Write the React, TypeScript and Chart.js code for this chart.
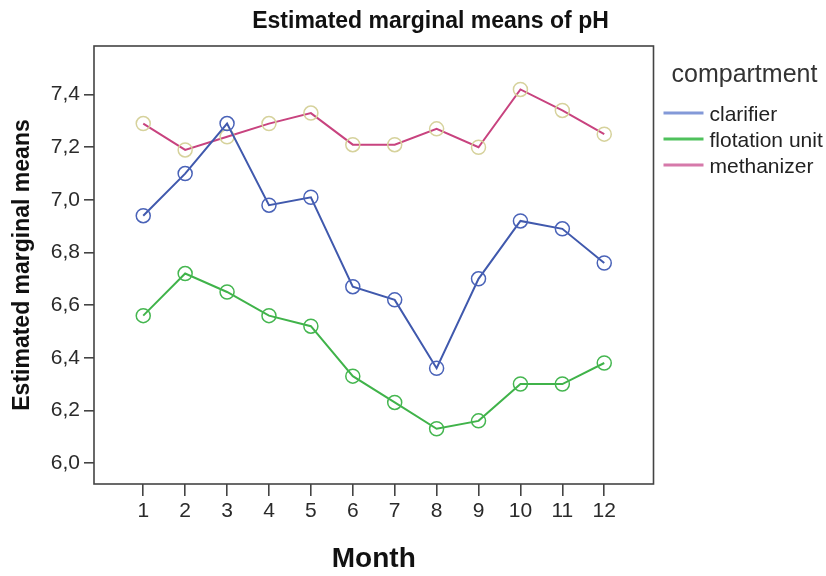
import React, { useEffect, useRef } from 'react';
import { Chart, registerables } from 'chart.js';

Chart.register(...registerables);

// ---- data ----
const months = [1, 2, 3, 4, 5, 6, 7, 8, 9, 10, 11, 12];
const clarifier = [6.94, 7.10, 7.29, 6.98, 7.01, 6.67, 6.62, 6.36, 6.70, 6.92, 6.89, 6.76];
const flotationUnit = [6.56, 6.72, 6.65, 6.56, 6.52, 6.33, 6.23, 6.13, 6.16, 6.30, 6.30, 6.38];
const methanizer = [7.29, 7.19, 7.24, 7.29, 7.33, 7.21, 7.21, 7.27, 7.20, 7.42, 7.34, 7.25];
const yTicks = [6.0, 6.2, 6.4, 6.6, 6.8, 7.0, 7.2, 7.4];
const seriesNames = ['clarifier', 'flotation unit', 'methanizer'];
const chartTitle = 'Estimated marginal means of pH';
const legendTitle = 'compartment';
const xTitle = 'Month';
const yTitle = 'Estimated marginal means';

const FONT = '"Liberation Sans", Arial, sans-serif';
const lineColors = ['#4059ad', '#40b34a', '#c8437f'];
const markerColors = ['#4a63b8', '#45b650', '#d6d29c'];
const legendColors = ['#8399d8', '#4fc15c', '#d679aa'];

const decorPlugin = {
  id: 'decor',
  afterDraw(chart: any) {
    const { ctx, chartArea: a } = chart;
    ctx.save();
    // frame
    ctx.strokeStyle = '#444';
    ctx.lineWidth = 1.6;
    ctx.strokeRect(a.left, a.top, a.right - a.left, a.bottom - a.top);
    // title
    ctx.fillStyle = '#111';
    ctx.font = `bold 23px ${FONT}`;
    ctx.textAlign = 'center';
    ctx.textBaseline = 'alphabetic';
    ctx.fillText(chartTitle, 430.5, 28);
    // legend
    ctx.textAlign = 'left';
    ctx.fillStyle = '#333';
    ctx.font = `25px ${FONT}`;
    ctx.fillText(legendTitle, a.right + 18, a.top + 36);
    ctx.font = `21px ${FONT}`;
    seriesNames.forEach((name, i) => {
      const y = a.top + 67 + i * 26;
      ctx.strokeStyle = legendColors[i];
      ctx.lineWidth = 3;
      ctx.beginPath();
      ctx.moveTo(a.right + 10, y);
      ctx.lineTo(a.right + 50, y);
      ctx.stroke();
      ctx.fillStyle = '#222';
      ctx.fillText(name, a.right + 56, y + 8);
    });
    ctx.restore();
  },
};

export default function App() {
  const ref = useRef<HTMLCanvasElement>(null);
  useEffect(() => {
    if (!ref.current) return;
    const series = [clarifier, flotationUnit, methanizer];
    const chart = new Chart(ref.current, {
      type: 'line',
      data: {
        datasets: series.map((vals, i) => ({
          label: seriesNames[i],
          data: months.map((m, j) => ({ x: m, y: vals[j] })),
          borderColor: lineColors[i],
          borderWidth: 2,
          tension: 0,
          pointRadius: 7,
          pointHoverRadius: 7,
          pointBorderWidth: 1.5,
          pointBorderColor: markerColors[i],
          pointBackgroundColor: 'rgba(0,0,0,0)',
          fill: false,
        })),
      },
      options: {
        animation: false,
        responsive: false,
        events: [],
        layout: { padding: { left: 0, top: 46, right: 172.5, bottom: 0 } },
        plugins: {
          legend: { display: false },
          title: { display: false },
          tooltip: { enabled: false },
        },
        scales: {
          x: {
            type: 'linear',
            min: -0.175,
            max: 13.175,
            afterBuildTicks: (s: any) => {
              s.ticks = months.map((v) => ({ value: v }));
            },
            afterFit: (s: any) => {
              s.height = 92;
            },
            grid: { display: true, drawOnChartArea: false, drawTicks: true, tickLength: 12, color: '#444', lineWidth: 1.6 },
            border: { display: false },
            ticks: {
              font: { family: FONT, size: 21 },
              color: '#2a2a2a',
              padding: 3,
              maxRotation: 0,
              autoSkip: false,
              callback: (v: any) => String(v),
            },
            title: {
              display: true,
              text: xTitle,
              font: { family: FONT, size: 28, weight: 'bold' },
              color: '#111',
              padding: { top: 0, bottom: 0 },
            },
          },
          y: {
            type: 'linear',
            min: 5.92,
            max: 7.585,
            afterBuildTicks: (s: any) => {
              s.ticks = yTicks.map((v) => ({ value: v }));
            },
            afterFit: (s: any) => {
              s.width = 94;
            },
            grid: { display: true, drawOnChartArea: false, drawTicks: true, tickLength: 10, color: '#444', lineWidth: 1.6 },
            border: { display: false },
            ticks: {
              font: { family: FONT, size: 21 },
              color: '#2a2a2a',
              padding: 4,
              callback: (v: any) => Number(v).toFixed(1).replace('.', ','),
            },
            title: {
              display: true,
              text: yTitle,
              font: { family: FONT, size: 23, weight: 'bold' },
              color: '#111',
              padding: { top: 9, bottom: 0 },
            },
          },
        },
      } as any,
      plugins: [decorPlugin],
    });
    return () => chart.destroy();
  }, []);
  return (
    <div style={{ position: 'fixed', left: 0, top: 0, width: 826, height: 576, background: '#fff' }}>
      <canvas ref={ref} width={826} height={576} style={{ display: 'block' }} />
    </div>
  );
}
